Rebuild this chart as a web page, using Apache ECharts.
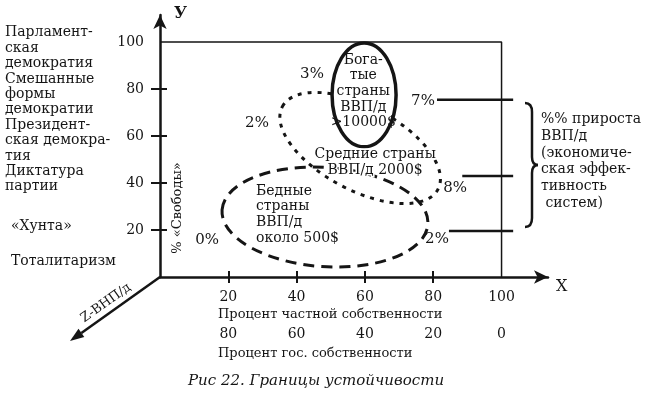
<!DOCTYPE html>
<html>
<head>
<meta charset="utf-8">
<script src="https://cdn.jsdelivr.net/npm/echarts@6/dist/echarts.min.js"></script>
<style>
html, body { margin: 0; padding: 0; background: #fff; }
#chart { width: 645px; height: 398px; }
</style>
</head>
<body>
<div id="chart"></div>
<script>
// tick labels
var xTicks = [20, 40, 60, 80, 100];
var govLabels = ['80', '60', '40', '20', '0'];
var yTicks = [20, 40, 60, 80, 100];

// regimes on the "freedom" scale, top to bottom
var regimeLines = ['Парламент-', 'ская', 'демократия', 'Смешанные', 'формы', 'демократии',
  'Президент-', 'ская демокра-', 'тия', 'Диктатура', 'партии'];

// country groups drawn as ellipses (centre, half-axes in axis units, tilt in degrees)
var groupNames = ['Бедные', 'Средние', 'Богатые'];
var groupCx = [48.3, 58.6, 59.75];
var groupCy = [25.5, 54.9, 77.5];
var groupRx = [30.2, 25.8, 9.37];
var groupRy = [21.1, 17.9, 22.1];
var groupTilt = [4, 28, 0];
var groupText = ['Бедные\nстраны\nВВП/д\nоколо 500$', 'Средние страны\nВВП/д 2000$', 'Бога-\nтые\nстраны\nВВП/д\n>10000$'];
var groupTextX = [28.1, 63.0, 59.5];
var groupTextY = [26.6, 48.9, 79.0];

// growth rate marks
var pctText = ['3%', '2%', '7%', '8%', '2%', '0%'];
var pctX = [44.5, 28.4, 77.0, 86.4, 81.1, 13.8];
var pctY = [86.4, 65.6, 74.9, 37.9, 16.2, 15.8];

// horizontal leaders to the brace
var leaderY = [75.4, 43.0, 19.6];
var leaderFrom = [81.1, 88.5, 84.6];
var leaderTo = 103.4;

var xMax = 113.6, yMax = 111.5;
var ink = '#151515';
var serif = "'DejaVu Serif', 'Liberation Serif', serif";

var chart = echarts.init(document.getElementById('chart'));

var ellipseStyle = [
  { fill: 'none', width: 3, dash: [11, 7], z: 1 },
  { fill: 'none', width: 3, dash: [4, 6], z: 2 },
  { fill: '#fff', width: 3.5, dash: null, z: 3 }
];

var series = [];
series.push({
  name: 'frame', type: 'line', symbol: 'none', silent: true,
  data: [[0, 100], [100, 100], [100, 0]],
  lineStyle: { color: ink, width: 1.5 }
});
for (var i = 0; i < leaderY.length; i++) {
  series.push({
    type: 'line', symbol: 'none', silent: true,
    data: [[leaderFrom[i], leaderY[i]], [leaderTo, leaderY[i]]],
    lineStyle: { color: ink, width: 2.5 }
  });
}
series.push({
  name: 'groups', type: 'custom', silent: true,
  data: groupNames.map(function (n, k) {
    return { name: n, value: [groupCx[k], groupCy[k], groupRx[k], groupRy[k], groupTilt[k]] };
  }),
  renderItem: function (params, api) {
    var c = api.coord([api.value(0), api.value(1)]);
    var s = api.size([api.value(2), api.value(3)]);
    var st = ellipseStyle[params.dataIndex];
    return {
      type: 'ellipse',
      x: c[0], y: c[1],
      rotation: -api.value(4) * Math.PI / 180,
      z2: st.z,
      shape: { cx: 0, cy: 0, rx: s[0], ry: s[1] },
      style: { fill: st.fill, stroke: ink, lineWidth: st.width, lineDash: st.dash }
    };
  }
});
series.push({
  name: 'groupText', type: 'scatter', symbolSize: 0, silent: true, z: 5,
  itemStyle: { opacity: 1 },
  data: groupText.map(function (t, k) {
    return {
      name: t, value: [groupTextX[k], groupTextY[k]],
      label: {
        align: k === 0 ? 'left' : 'center', lineHeight: k === 1 ? 16 : 15.7,
        textBorderColor: '#fff', textBorderWidth: k === 1 ? 3 : 0
      }
    };
  }),
  label: {
    show: true, position: 'inside', formatter: '{b}', opacity: 1,
    color: ink, fontFamily: serif, fontSize: 14
  }
});
series.push({
  name: 'pct', type: 'scatter', symbolSize: 0, silent: true, z: 5,
  itemStyle: { opacity: 1 },
  data: pctText.map(function (t, k) { return { name: t, value: [pctX[k], pctY[k]] }; }),
  label: {
    show: true, position: 'inside', formatter: '{b}', opacity: 1,
    color: ink, fontFamily: serif, fontSize: 15
  }
});

function xAx(extra) {
  return Object.assign({
    type: 'value', position: 'bottom', min: 0, max: xMax,
    splitLine: { show: false },
    axisLine: { show: false },
    axisTick: { show: false },
    axisLabel: { show: false }
  }, extra);
}
function yAx(extra) {
  return Object.assign({
    type: 'value', position: 'left', min: 0, max: yMax,
    splitLine: { show: false },
    axisLine: { show: false },
    axisTick: { show: false },
    axisLabel: { show: false }
  }, extra);
}

var txt = function (text, x, y, size, extra) {
  return Object.assign({
    type: 'text', x: x, y: y,
    style: { text: text, font: size + 'px ' + serif, fill: ink }
  }, extra || {});
};

chart.setOption({
  animation: false,
  backgroundColor: '#fff',
  grid: { left: 160, top: 15, right: 97, bottom: 121 },
  xAxis: [
    xAx({
      axisLine: { show: true, symbol: ['none', 'arrow'], symbolSize: [10, 14], lineStyle: { color: ink, width: 2.5 } },
      axisTick: { show: true, customValues: [20, 40, 60, 80], length: 6, lineStyle: { color: ink, width: 2 } },
      axisLabel: { show: true, customValues: xTicks, margin: 13, color: ink, fontFamily: serif, fontSize: 14 }
    }),
    xAx({ axisTick: { show: true, inside: true, customValues: [20, 40, 60, 80], length: 6, lineStyle: { color: ink, width: 2 } } }),
    xAx({
      offset: 37,
      axisLabel: {
        show: true, customValues: xTicks, margin: 13, color: ink, fontFamily: serif, fontSize: 14,
        formatter: function (v) { return govLabels[xTicks.indexOf(v)]; }
      }
    })
  ],
  yAxis: [
    yAx({
      axisLine: { show: true, symbol: ['none', 'arrow'], symbolSize: [10, 14], lineStyle: { color: ink, width: 2.5 } },
      axisTick: { show: true, customValues: [20, 40, 60, 80], length: 9, lineStyle: { color: ink, width: 2 } },
      axisLabel: { show: true, customValues: yTicks, margin: 16, color: ink, fontFamily: serif, fontSize: 14 }
    }),
    yAx({ axisTick: { show: true, inside: true, customValues: [20, 40, 60, 80], length: 7, lineStyle: { color: ink, width: 2 } } })
  ],
  series: series,
  graphic: [
    txt('У', 174, 6, 16, { style: { text: 'У', font: 'bold 16px ' + serif, fill: ink } }),
    txt('X', 556, 279, 16),
    txt(regimeLines.join('\n'), 5, 25, 14, { style: { text: regimeLines.join('\n'), font: '14px ' + serif, fill: ink, lineHeight: 15.4 } }),
    txt('«Хунта»', 11, 219, 14),
    txt('Тоталитаризм', 11, 254, 14),
    {
      type: 'text', x: 178, y: 208, rotation: Math.PI / 2,
      style: { text: '% «Свободы»', font: '13px ' + serif, fill: ink, align: 'center', verticalAlign: 'middle', textAlign: 'center', textVerticalAlign: 'middle' }
    },
    { type: 'line', shape: { x1: 160, y1: 277, x2: 81.4, y2: 332.9 }, style: { stroke: ink, lineWidth: 2.5 } },
    { type: 'polygon', shape: { points: [[70, 341], [84.3, 337], [78.5, 328.8]] }, style: { fill: ink } },
    {
      type: 'text', x: 106, y: 303, rotation: 0.618,
      style: { text: 'Z-ВНП/д', font: '13px ' + serif, fill: ink, align: 'center', verticalAlign: 'middle', textAlign: 'center', textVerticalAlign: 'middle' }
    },
    txt('Процент частной собственности', 218, 308, 13),
    txt('Процент гос. собственности', 218, 347, 13),
    txt('Рис 22. Границы устойчивости', 188, 374, 15, { style: { text: 'Рис 22. Границы устойчивости', font: 'italic 15px ' + serif, fill: ink } }),
    txt('%% прироста\nВВП/д\n(экономиче-\nская эффек-\nтивность\n систем)', 541, 111, 14, {
      style: { text: '%% прироста\nВВП/д\n(экономиче-\nская эффек-\nтивность\n систем)', font: '14px ' + serif, fill: ink, lineHeight: 16.8 }
    }),
    {
      type: 'group', children: [
        { type: 'bezierCurve', shape: { x1: 525, y1: 103, x2: 532, y2: 112, cpx1: 532, cpy1: 103 }, style: { stroke: ink, lineWidth: 2.5, fill: 'none' } },
        { type: 'line', shape: { x1: 532, y1: 112, x2: 532, y2: 157 }, style: { stroke: ink, lineWidth: 2.5 } },
        { type: 'bezierCurve', shape: { x1: 532, y1: 157, x2: 538, y2: 165, cpx1: 532, cpy1: 165 }, style: { stroke: ink, lineWidth: 2.5, fill: 'none' } },
        { type: 'bezierCurve', shape: { x1: 538, y1: 165, x2: 532, y2: 173, cpx1: 532, cpy1: 165 }, style: { stroke: ink, lineWidth: 2.5, fill: 'none' } },
        { type: 'line', shape: { x1: 532, y1: 173, x2: 532, y2: 218 }, style: { stroke: ink, lineWidth: 2.5 } },
        { type: 'bezierCurve', shape: { x1: 532, y1: 218, x2: 525, y2: 227, cpx1: 532, cpy1: 227 }, style: { stroke: ink, lineWidth: 2.5, fill: 'none' } }
      ]
    }
  ]
});
</script>
</body>
</html>
